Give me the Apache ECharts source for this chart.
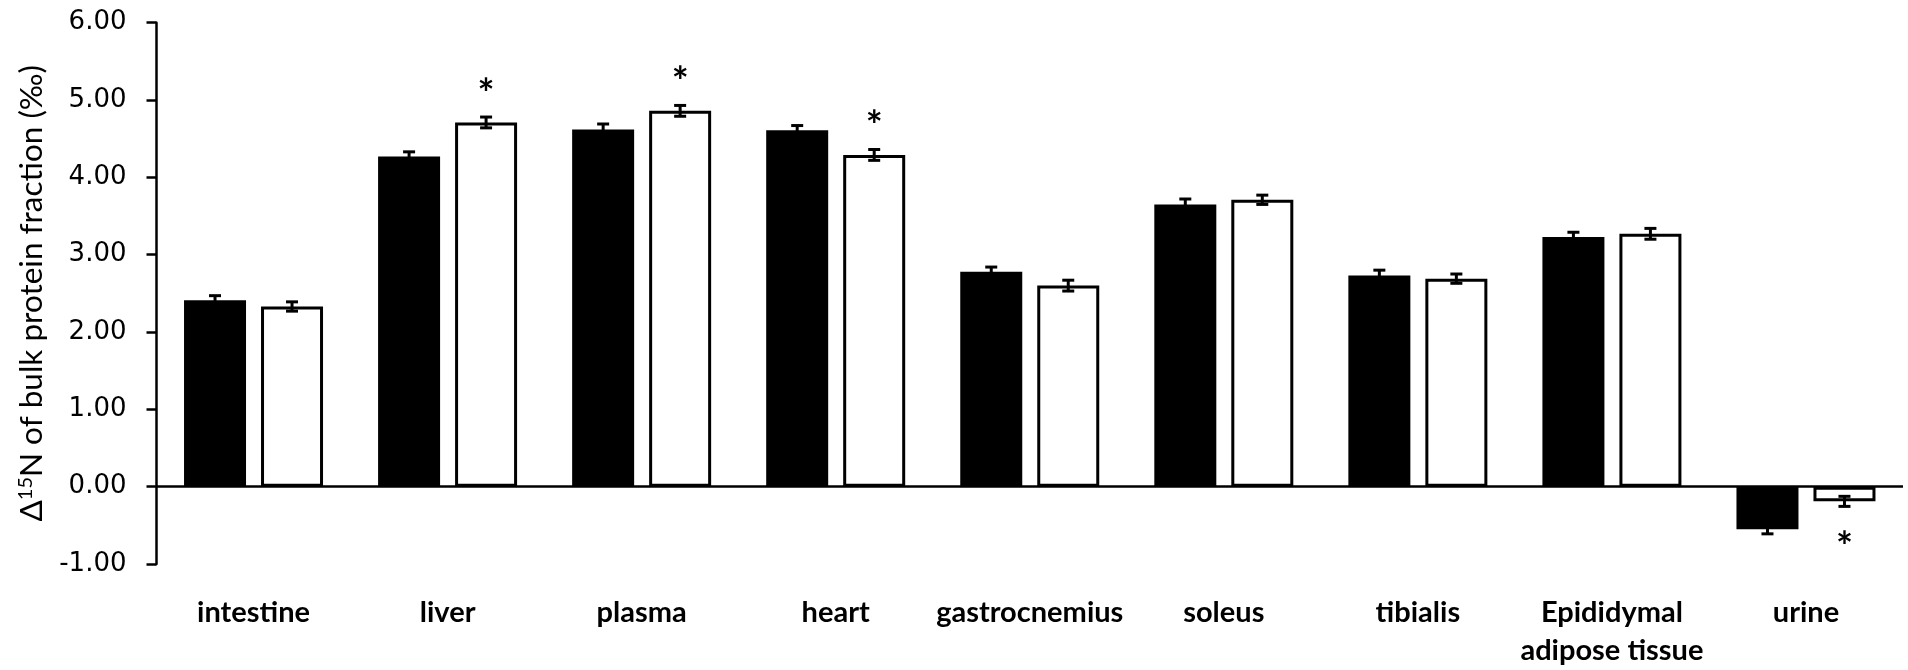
<!DOCTYPE html>
<html>
<head>
<meta charset="utf-8">
<script src="https://cdn.jsdelivr.net/npm/echarts@6/dist/echarts.min.js"></script>
<style>
html,body{margin:0;padding:0;background:#fff;}
#chart{width:1908px;height:670px;}
</style>
</head>
<body>
<div id="chart"></div>
<script>
const categories = ['intestine','liver','plasma','heart','gastrocnemius','soleus','tibialis','Epididymal\nadipose tissue','urine'];
const blackValues = [2.41, 4.27, 4.62, 4.61, 2.78, 3.65, 2.73, 3.23, -0.55];
const blackErr    = [0.06, 0.06, 0.07, 0.06, 0.06, 0.07, 0.07, 0.06, 0.06];
const whiteValues = [2.33, 4.71, 4.86, 4.29, 2.60, 3.71, 2.69, 3.27, -0.19];
const whiteErr    = [0.06, 0.07, 0.07, 0.07, 0.07, 0.06, 0.06, 0.07, 0.065];
const whiteSig    = [false, true, true, true, false, false, false, false, true];
const yMin = -1, yMax = 6, yStep = 1;

const BAR_W = 62, BAR_GAP = 15;
const OFFSET = (BAR_W + BAR_GAP) / 2;

function errSeries(values, errs, sig, dx) {
  return {
    type: 'custom',
    z: 10,
    silent: true,
    data: values.map((v, i) => [i, v, errs[i], sig ? (sig[i] ? 1 : 0) : 0]),
    renderItem: function (params, api) {
      const i = api.value(0), v = api.value(1), e = api.value(2), s = api.value(3);
      const hi = api.coord([i, v + e]);
      const lo = api.coord([i, v - e]);
      const x = hi[0] + dx;
      const cw = 6;
      const style = { stroke: '#000', lineWidth: 3 };
      const children = [
        { type: 'line', shape: { x1: x, y1: hi[1], x2: x, y2: lo[1] }, style: style },
        { type: 'line', shape: { x1: x - cw, y1: hi[1], x2: x + cw, y2: hi[1] }, style: style },
        { type: 'line', shape: { x1: x - cw, y1: lo[1], x2: x + cw, y2: lo[1] }, style: style }
      ];
      if (s) {
        const ty = v >= 0 ? hi[1] - 22 : lo[1] + 42;
        children.push({
          type: 'text',
          style: { text: '*', x: x, y: ty, align: 'center', verticalAlign: 'middle',
                   font: 'bold 40px Lato, sans-serif', fill: '#000' }
        });
      }
      return { type: 'group', children: children };
    }
  };
}

const chart = echarts.init(document.getElementById('chart'), null, { renderer: 'canvas' });
chart.setOption({
  animation: false,
  backgroundColor: '#fff',
  grid: { left: 156.5, right: 5, top: 22.7, bottom: 97.5, containLabel: false },
  xAxis: {
    type: 'category',
    data: categories,
    axisLine: { show: false, onZero: false },
    axisTick: { show: false },
    axisLabel: {
      interval: 0, margin: 30, color: '#000',
      fontFamily: 'Lato, sans-serif', fontWeight: 'bold', fontSize: 29, lineHeight: 38
    }
  },
  yAxis: {
    type: 'value',
    min: yMin, max: yMax, interval: yStep,
    axisLine: { show: true, lineStyle: { color: '#000', width: 2.5 } },
    axisTick: { show: true, inside: false, length: 10, lineStyle: { color: '#000', width: 2.5 } },
    splitLine: { show: false },
    axisLabel: {
      margin: 30, color: '#000', fontFamily: 'DejaVu Sans, sans-serif', fontSize: 26,
      formatter: v => v.toFixed(2)
    },
    name: '{a|Δ}{s|15}{a|N of bulk protein fraction (‰)}',
    nameLocation: 'middle',
    nameRotate: 90,
    nameGap: 98,
    nameTextStyle: {
      rich: {
        a: { fontFamily: 'Lato, sans-serif', fontSize: 31.5, color: '#000' },
        s: { fontFamily: 'Lato, sans-serif', fontSize: 20, color: '#000', verticalAlign: 'top', padding: [0, 0, 14, 0] }
      }
    }
  },
  series: [
    {
      type: 'bar',
      data: blackValues,
      barWidth: BAR_W,
      barGap: (BAR_GAP / BAR_W * 100) + '%',
      itemStyle: { color: '#000' },
      markLine: {
        silent: true, symbol: 'none', label: { show: false },
        lineStyle: { color: '#000', width: 2.5, type: 'solid' },
        data: [{ yAxis: 0 }]
      }
    },
    {
      type: 'bar',
      data: whiteValues,
      barWidth: BAR_W,
      itemStyle: { color: '#fff', borderColor: '#000', borderWidth: 3 }
    },
    errSeries(blackValues, blackErr, null, -OFFSET),
    errSeries(whiteValues, whiteErr, whiteSig, OFFSET)
  ]
});
</script>
</body>
</html>
